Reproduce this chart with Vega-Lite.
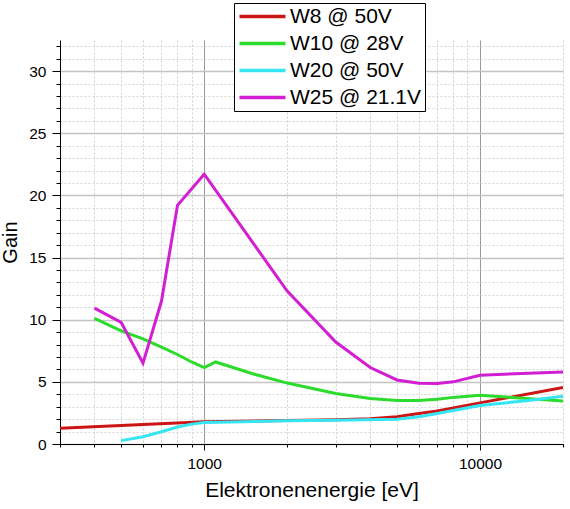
{
  "$schema": "https://vega.github.io/schema/vega-lite/v6.json",
  "width": 503,
  "height": 404,
  "autosize": {"type": "none"},
  "padding": {"left": 60, "top": 40, "right": 7, "bottom": 65},
  "background": "white",
  "config": {
    "view": {"stroke": null},
    "font": "Liberation Sans",
    "axis": {
      "domainColor": "black",
      "tickColor": "black",
      "labelColor": "black",
      "titleColor": "black",
      "labelFont": "Liberation Sans",
      "titleFont": "Liberation Sans",
      "titleFontWeight": "normal"
    }
  },
  "data": {
    "values": [
      {"E": 300, "Gain": 1.27, "Serie": "W8 @ 50V"},
      {"E": 1000, "Gain": 1.79, "Serie": "W8 @ 50V"},
      {"E": 2000, "Gain": 1.9, "Serie": "W8 @ 50V"},
      {"E": 3000, "Gain": 1.95, "Serie": "W8 @ 50V"},
      {"E": 4000, "Gain": 2.04, "Serie": "W8 @ 50V"},
      {"E": 5000, "Gain": 2.19, "Serie": "W8 @ 50V"},
      {"E": 6000, "Gain": 2.45, "Serie": "W8 @ 50V"},
      {"E": 7000, "Gain": 2.65, "Serie": "W8 @ 50V"},
      {"E": 8000, "Gain": 2.9, "Serie": "W8 @ 50V"},
      {"E": 10000, "Gain": 3.31, "Serie": "W8 @ 50V"},
      {"E": 20000, "Gain": 4.55, "Serie": "W8 @ 50V"},

      {"E": 400, "Gain": 10.1, "Serie": "W10 @ 28V"},
      {"E": 500, "Gain": 9.1, "Serie": "W10 @ 28V"},
      {"E": 600, "Gain": 8.45, "Serie": "W10 @ 28V"},
      {"E": 700, "Gain": 7.8, "Serie": "W10 @ 28V"},
      {"E": 800, "Gain": 7.2, "Serie": "W10 @ 28V"},
      {"E": 900, "Gain": 6.6, "Serie": "W10 @ 28V"},
      {"E": 1000, "Gain": 6.15, "Serie": "W10 @ 28V"},
      {"E": 1100, "Gain": 6.6, "Serie": "W10 @ 28V"},
      {"E": 1500, "Gain": 5.65, "Serie": "W10 @ 28V"},
      {"E": 2000, "Gain": 4.9, "Serie": "W10 @ 28V"},
      {"E": 3000, "Gain": 4.07, "Serie": "W10 @ 28V"},
      {"E": 4000, "Gain": 3.66, "Serie": "W10 @ 28V"},
      {"E": 5000, "Gain": 3.5, "Serie": "W10 @ 28V"},
      {"E": 6000, "Gain": 3.5, "Serie": "W10 @ 28V"},
      {"E": 7000, "Gain": 3.6, "Serie": "W10 @ 28V"},
      {"E": 8000, "Gain": 3.75, "Serie": "W10 @ 28V"},
      {"E": 10000, "Gain": 3.93, "Serie": "W10 @ 28V"},
      {"E": 13000, "Gain": 3.75, "Serie": "W10 @ 28V"},
      {"E": 20000, "Gain": 3.45, "Serie": "W10 @ 28V"},

      {"E": 500, "Gain": 0.27, "Serie": "W20 @ 50V"},
      {"E": 600, "Gain": 0.59, "Serie": "W20 @ 50V"},
      {"E": 700, "Gain": 0.99, "Serie": "W20 @ 50V"},
      {"E": 800, "Gain": 1.37, "Serie": "W20 @ 50V"},
      {"E": 900, "Gain": 1.6, "Serie": "W20 @ 50V"},
      {"E": 1000, "Gain": 1.72, "Serie": "W20 @ 50V"},
      {"E": 2000, "Gain": 1.87, "Serie": "W20 @ 50V"},
      {"E": 3000, "Gain": 1.92, "Serie": "W20 @ 50V"},
      {"E": 5000, "Gain": 2.0, "Serie": "W20 @ 50V"},
      {"E": 6000, "Gain": 2.2, "Serie": "W20 @ 50V"},
      {"E": 7000, "Gain": 2.45, "Serie": "W20 @ 50V"},
      {"E": 8000, "Gain": 2.7, "Serie": "W20 @ 50V"},
      {"E": 10000, "Gain": 3.1, "Serie": "W20 @ 50V"},
      {"E": 15000, "Gain": 3.5, "Serie": "W20 @ 50V"},
      {"E": 20000, "Gain": 3.85, "Serie": "W20 @ 50V"},

      {"E": 400, "Gain": 10.93, "Serie": "W25 @ 21.1V"},
      {"E": 500, "Gain": 9.78, "Serie": "W25 @ 21.1V"},
      {"E": 600, "Gain": 6.5, "Serie": "W25 @ 21.1V"},
      {"E": 700, "Gain": 11.5, "Serie": "W25 @ 21.1V"},
      {"E": 800, "Gain": 19.2, "Serie": "W25 @ 21.1V"},
      {"E": 1000, "Gain": 21.7, "Serie": "W25 @ 21.1V"},
      {"E": 2000, "Gain": 12.3, "Serie": "W25 @ 21.1V"},
      {"E": 3000, "Gain": 8.2, "Serie": "W25 @ 21.1V"},
      {"E": 4000, "Gain": 6.15, "Serie": "W25 @ 21.1V"},
      {"E": 5000, "Gain": 5.15, "Serie": "W25 @ 21.1V"},
      {"E": 6000, "Gain": 4.88, "Serie": "W25 @ 21.1V"},
      {"E": 7000, "Gain": 4.87, "Serie": "W25 @ 21.1V"},
      {"E": 8000, "Gain": 5.0, "Serie": "W25 @ 21.1V"},
      {"E": 10000, "Gain": 5.53, "Serie": "W25 @ 21.1V"},
      {"E": 15000, "Gain": 5.7, "Serie": "W25 @ 21.1V"},
      {"E": 20000, "Gain": 5.8, "Serie": "W25 @ 21.1V"}
    ]
  },
  "mark": {"type": "line", "strokeWidth": 3, "clip": true},
  "encoding": {
    "x": {
      "field": "E",
      "type": "quantitative",
      "title": "Elektronenenergie [eV]",
      "scale": {"type": "log", "domain": [300, 20000], "nice": false},
      "axis": {
        "values": [300, 400, 500, 600, 700, 800, 900, 1000, 2000, 3000, 4000, 5000, 6000, 7000, 8000, 9000, 10000, 20000],
        "format": "d",
        "labelExpr": "datum.value == 1000 || datum.value == 10000 ? datum.label : ''",
        "labelFontSize": 15.5,
        "labelPadding": 6,
        "titleFontSize": 21,
        "titlePadding": 8,
        "tickSize": {"condition": {"test": "datum.value == 1000 || datum.value == 10000", "value": 6}, "value": 3},
        "grid": true,
        "gridColor": {"condition": {"test": "datum.value == 1000 || datum.value == 10000", "value": "#9a9a9a"}, "value": "#d0d0d0"},
        "gridDash": {"condition": {"test": "datum.value == 1000 || datum.value == 10000", "value": []}, "value": [2, 2]},
        "gridWidth": 1
      }
    },
    "y": {
      "field": "Gain",
      "type": "quantitative",
      "title": "Gain",
      "scale": {"domain": [0, 32.5], "nice": false},
      "axis": {
        "values": [0, 1, 2, 3, 4, 5, 6, 7, 8, 9, 10, 11, 12, 13, 14, 15, 16, 17, 18, 19, 20, 21, 22, 23, 24, 25, 26, 27, 28, 29, 30, 31, 32],
        "labelExpr": "datum.value % 5 == 0 ? datum.label : ''",
        "labelFontSize": 15.5,
        "labelPadding": 6,
        "titleFontSize": 20,
        "titlePadding": 8,
        "tickSize": {"condition": {"test": "datum.value % 5 == 0", "value": 8}, "value": 4},
        "grid": true,
        "gridColor": {"condition": {"test": "datum.value % 5 == 0", "value": "#c4c4c4"}, "value": "#d6d6d6"},
        "gridDash": {"condition": {"test": "datum.value % 5 == 0", "value": []}, "value": [2, 2]},
        "gridWidth": {"condition": {"test": "datum.value % 5 == 0", "value": 1.6}, "value": 1}
      }
    },
    "color": {
      "field": "Serie",
      "type": "nominal",
      "sort": ["W8 @ 50V", "W10 @ 28V", "W20 @ 50V", "W25 @ 21.1V"],
      "scale": {
        "domain": ["W8 @ 50V", "W10 @ 28V", "W20 @ 50V", "W25 @ 21.1V"],
        "range": ["#cc1616", "#2ddb2d", "#35e6f2", "#d21fd2"]
      },
      "legend": {
        "title": null,
        "orient": "none",
        "legendX": 174,
        "legendY": -37,
        "strokeColor": "black",
        "fillColor": "white",
        "padding": 3,
        "symbolType": "M-1.6,0H7.6",
        "symbolSize": 100,
        "symbolStrokeWidth": 3.5,
        "labelFontSize": 21,
        "labelFont": "Liberation Sans",
        "labelColor": "black",
        "labelOffset": 32,
        "labelLimit": 300,
        "rowPadding": 5
      }
    },
    "order": {"field": "E", "type": "quantitative"}
  }
}
